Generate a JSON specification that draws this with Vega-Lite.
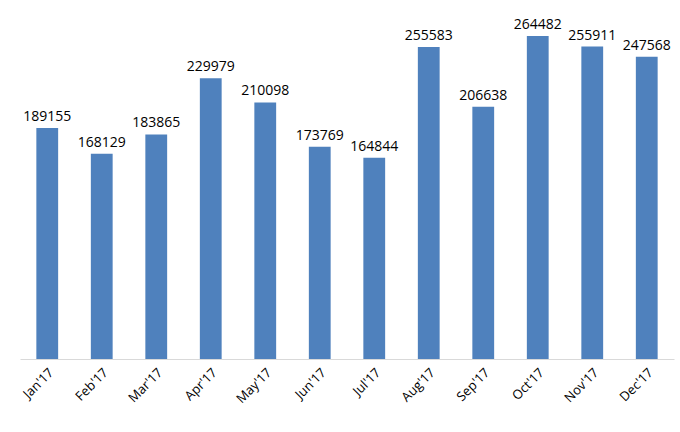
{
  "$schema": "https://vega.github.io/schema/vega-lite/v6.json",
  "width": 654,
  "height": 348,
  "autosize": "none",
  "padding": {"left": 20, "top": 11, "right": 6, "bottom": 73},
  "background": "white",
  "config": {"view": {"stroke": null}, "font": "Open Sans"},
  "data": {
    "values": [
      {"Month": "Jan'17", "Value": 189155},
      {"Month": "Feb'17", "Value": 168129},
      {"Month": "Mar'17", "Value": 183865},
      {"Month": "Apr'17", "Value": 229979},
      {"Month": "May'17", "Value": 210098},
      {"Month": "Jun'17", "Value": 173769},
      {"Month": "Jul'17", "Value": 164844},
      {"Month": "Aug'17", "Value": 255583},
      {"Month": "Sep'17", "Value": 206638},
      {"Month": "Oct'17", "Value": 264482},
      {"Month": "Nov'17", "Value": 255911},
      {"Month": "Dec'17", "Value": 247568}
    ]
  },
  "encoding": {
    "x": {
      "field": "Month",
      "type": "nominal",
      "sort": null,
      "scale": {"paddingInner": 0.6, "paddingOuter": 0.3},
      "axis": {
        "title": null,
        "labelAngle": -45,
        "labelFont": "Open Sans",
        "labelFontSize": 13,
        "labelColor": "#000000",
        "ticks": false,
        "labelPadding": 7,
        "domainColor": "#d9d9d9",
        "domainWidth": 1
      }
    },
    "y": {
      "field": "Value",
      "type": "quantitative",
      "scale": {"domain": [0, 285000]},
      "axis": null
    }
  },
  "layer": [
    {"mark": {"type": "bar", "color": "#4F81BD"}},
    {
      "mark": {"type": "text", "baseline": "bottom", "dy": -4, "fontSize": 14, "font": "Open Sans", "color": "#000000"},
      "encoding": {"text": {"field": "Value", "type": "quantitative", "format": "d"}}
    }
  ]
}
